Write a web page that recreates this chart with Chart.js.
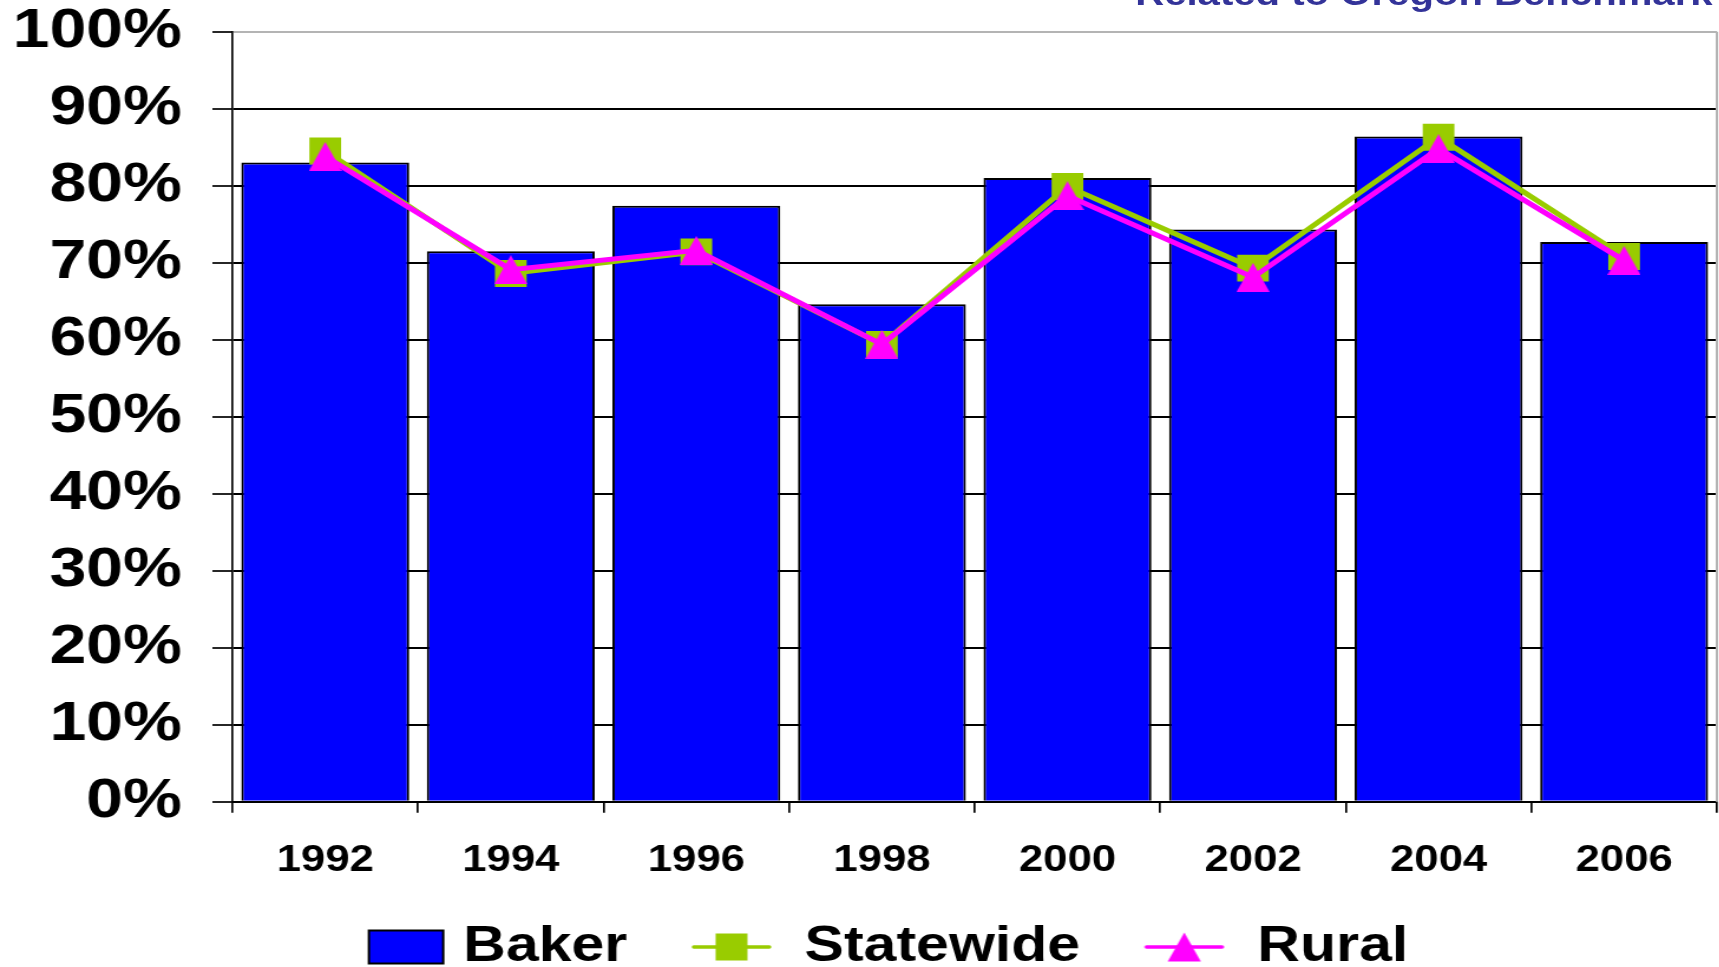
<!DOCTYPE html>
<html><head><meta charset="utf-8">
<script src="https://cdn.jsdelivr.net/npm/chart.js@4.4.0/dist/chart.umd.min.js"></script>
<style>
html,body{margin:0;padding:0;background:#fff;overflow:hidden;width:1719px;height:967px;}
#wrap{position:absolute;left:0;top:0;width:1457px;height:982px;transform:scaleX(1.18);transform-origin:0 0;}
#c{position:absolute;left:0;top:0;}
#title{position:absolute;left:962px;top:-24px;font:bold 34px "Liberation Sans",Arial,sans-serif;line-height:34px;color:#333399;white-space:nowrap;}
</style></head><body>
<div id="wrap"><canvas id="c" width="1457" height="982"></canvas><div id="title">Related to Oregon Benchmark</div></div>
<script>
// ---- data ----
const years = ['1992', '1994', '1996', '1998', '2000', '2002', '2004', '2006'];
const bakerValues = [83.0, 71.5, 77.4, 64.6, 81.0, 74.3, 86.4, 72.7];
const statewideValues = [84.5, 68.6, 71.4, 59.4, 79.9, 69.3, 86.3, 70.8];
const ruralValues = [83.8, 69.1, 71.6, 59.4, 78.7, 68.1, 84.8, 70.3];
const seriesNames = ['Baker', 'Statewide', 'Rural'];

const BLUE = '#0000FF', GREEN = '#99CC00', PINK = '#FF00FF';
const FONT = '"Liberation Sans", Arial, sans-serif';
Chart.defaults.font.family = FONT;
Chart.defaults.color = '#000';

function makeTriangle(w, h, color) {
  const c = document.createElement('canvas');
  c.width = w; c.height = h;
  const g = c.getContext('2d');
  g.fillStyle = color;
  g.beginPath(); g.moveTo(w / 2, 0); g.lineTo(w, h); g.lineTo(0, h); g.closePath(); g.fill();
  return c;
}
function makeLegendImg(kind) {
  const W = 126, H = 36;
  const c = document.createElement('canvas');
  c.width = W; c.height = H;
  const g = c.getContext('2d');
  const cy = H / 2;
  if (kind === 'bar') {
    g.fillStyle = BLUE; g.fillRect(61, cy - 16.5, 63, 33);
    g.strokeStyle = '#000'; g.lineWidth = 2; g.strokeRect(61, cy - 16.5, 63, 33);
  } else {
    const col = kind === 'square' ? GREEN : PINK;
    const mx = 79;
    g.strokeStyle = col; g.lineWidth = 3.5; g.lineCap = 'round';
    g.beginPath(); g.moveTo(47, cy); g.lineTo(111, cy); g.stroke();
    g.fillStyle = col;
    if (kind === 'square') {
      g.fillRect(mx - 13.5, cy - 13.5, 27, 27);
    } else {
      g.beginPath(); g.moveTo(mx, cy - 14.5); g.lineTo(mx + 14, cy + 14.5); g.lineTo(mx - 14, cy + 14.5); g.closePath(); g.fill();
    }
  }
  return c;
}
const triImg = makeTriangle(28, 29, PINK);
const legendImgs = [makeLegendImg('bar'), makeLegendImg('square'), makeLegendImg('triangle')];

const plotBorder = {
  id: 'plotBorder',
  beforeDatasetsDraw(chart) {
    const {ctx, chartArea: a} = chart;
    ctx.save();
    ctx.strokeStyle = '#b4b4b4'; ctx.lineWidth = 2;
    ctx.beginPath(); ctx.moveTo(a.right, a.top); ctx.lineTo(a.right, a.bottom); ctx.stroke();
    ctx.restore();
  }
};

new Chart(document.getElementById('c'), {
  type: 'bar',
  data: {
    labels: years,
    datasets: [
      {
        type: 'bar', label: seriesNames[0], data: bakerValues,
        backgroundColor: BLUE, borderColor: '#000', borderWidth: 2,
        barPercentage: 0.905, categoryPercentage: 1.0, order: 3
      },
      {
        type: 'line', label: seriesNames[1], data: statewideValues,
        borderColor: GREEN, borderWidth: 5, tension: 0, fill: false,
        pointStyle: 'rect', pointRadius: 19, pointBackgroundColor: GREEN,
        pointBorderWidth: 0, order: 2
      },
      {
        type: 'line', label: seriesNames[2], data: ruralValues,
        borderColor: PINK, borderWidth: 5, tension: 0, fill: false,
        pointStyle: triImg, pointRadius: 15, pointBackgroundColor: PINK,
        pointBorderWidth: 0, order: 1
      }
    ]
  },
  options: {
    responsive: false,
    devicePixelRatio: 1,
    animation: false,
    layout: { autoPadding: false, padding: { top: 31.7, left: 0, right: 2, bottom: 0 } },
    plugins: {
      tooltip: { enabled: false },
      title: { display: false },
      legend: {
        position: 'bottom',
        labels: {
          usePointStyle: true,
          pointStyleWidth: 105.95,
          padding: 19.35,
          color: '#000',
          font: { size: 50, weight: 'bold', family: FONT },
          generateLabels: () => seriesNames.map((n, i) => ({
            text: n, pointStyle: legendImgs[i], fillStyle: 'transparent',
            strokeStyle: 'transparent', lineWidth: 0, hidden: false, datasetIndex: i, fontColor: '#000'
          }))
        }
      }
    },
    scales: {
      x: {
        grid: { display: true, drawOnChartArea: false, drawTicks: true, tickLength: 11, color: '#000', lineWidth: 1.7 },
        border: { display: true, color: '#000', width: 2 },
        ticks: { color: '#000', padding: 0, font: { size: 37, weight: 'bold', lineHeight: 2.611 } },
        afterFit: (s) => { s.height = 100.95; s.paddingLeft = 0; s.paddingRight = 0; }
      },
      y: {
        min: 0, max: 100,
        grid: {
          color: (ctx) => (ctx.tick && ctx.tick.value === 100) ? '#b4b4b4' : '#000',
          lineWidth: 2, tickColor: '#000', tickWidth: 1.7, tickLength: 17, drawTicks: true
        },
        border: { display: true, color: '#000', width: 1.7 },
        ticks: {
          stepSize: 10, color: '#000', padding: 26,
          font: { size: 56, weight: 'bold', lineHeight: 0.1 },
          callback: (v) => v + '%'
        },
        afterFit: (s) => { s.width = 197; }
      }
    }
  },
  plugins: [plotBorder]
});
</script>
</body></html>
